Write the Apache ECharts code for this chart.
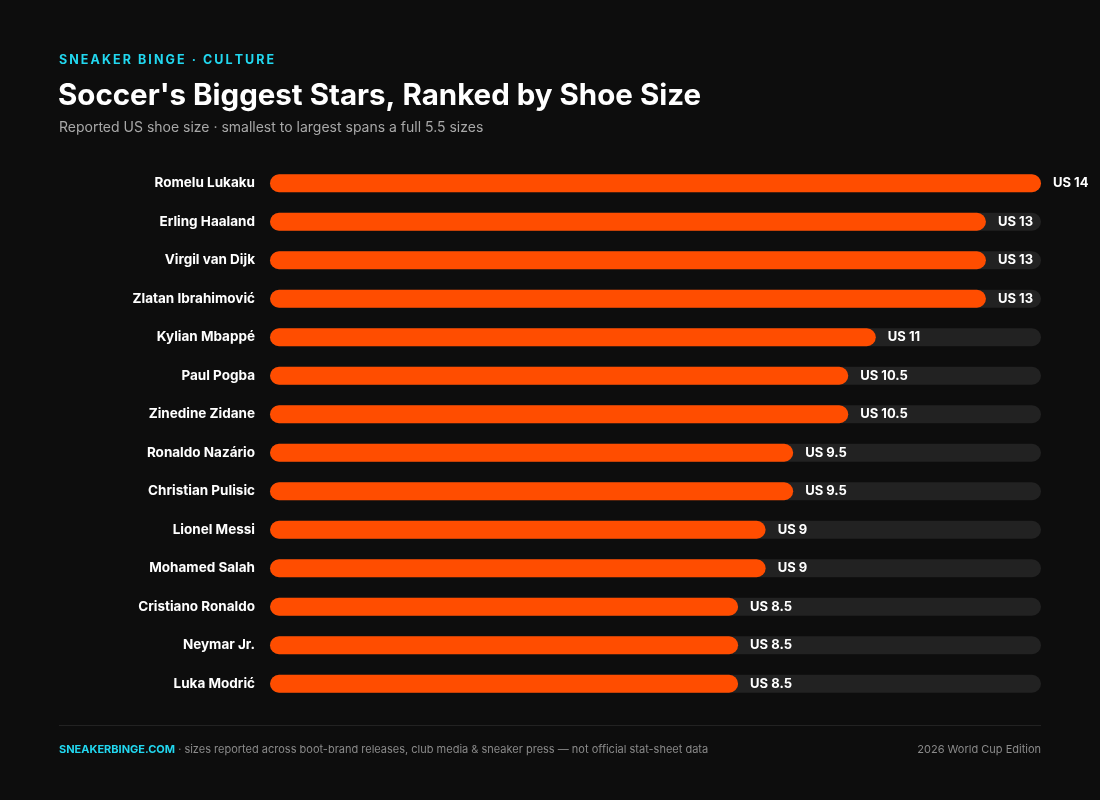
<!DOCTYPE html>
<html>
<head>
<meta charset="utf-8">
<title>Soccer's Biggest Stars, Ranked by Shoe Size</title>
<script src="https://cdn.jsdelivr.net/npm/echarts@6/dist/echarts.min.js"></script>
<style>
  html, body { margin: 0; padding: 0; background: #0d0d0d; }
  #chart { width: 1100px; height: 800px; }
</style>
</head>
<body>
<div id="chart"></div>
<script>
// players, top to bottom
const players = [
  "Romelu Lukaku", "Erling Haaland", "Virgil van Dijk", "Zlatan Ibrahimović",
  "Kylian Mbappé", "Paul Pogba", "Zinedine Zidane", "Ronaldo Nazário",
  "Christian Pulisic", "Lionel Messi", "Mohamed Salah", "Cristiano Ronaldo",
  "Neymar Jr.", "Luka Modrić"
];
// reported US shoe size
const shoeSizes = [14, 13, 13, 13, 11, 10.5, 10.5, 9.5, 9.5, 9, 9, 8.5, 8.5, 8.5];
const maxSize = 14;

const FONT = "Inter, 'Noto Sans', sans-serif";
const ORANGE = "#ff4d00";
const TRACK = "#222222";

// spread the kicker letters a bit (no letterSpacing in canvas text)
function spaced(s) {
  return s.split("").join("\u2006");
}

let el = document.getElementById("chart");
let myChart = echarts.init(el, null, { renderer: "canvas" });

myChart.setOption({
  backgroundColor: "#0d0d0d",
  animation: false,
  grid: { left: 270, right: 59, top: 164, bottom: 97, containLabel: false },
  xAxis: {
    type: "value",
    min: 0,
    max: maxSize,
    show: false
  },
  yAxis: {
    type: "category",
    data: players,
    inverse: true,
    axisLine: { show: false },
    axisTick: { show: false },
    splitLine: { show: false },
    axisLabel: {
      color: "#ffffff",
      fontFamily: FONT,
      fontWeight: "bold",
      fontSize: 13.5,
      margin: 15
    }
  },
  series: [
    {
      // background track
      type: "bar",
      data: players.map(() => maxSize),
      barWidth: 18,
      barGap: "-100%",
      silent: true,
      itemStyle: { color: TRACK, borderRadius: 9 },
      z: 1
    },
    {
      type: "bar",
      data: shoeSizes,
      barWidth: 18,
      itemStyle: { color: ORANGE, borderRadius: 9 },
      label: {
        show: true,
        position: "right",
        distance: 12,
        formatter: (p) => "US " + p.value,
        color: "#ffffff",
        fontFamily: FONT,
        fontWeight: "bold",
        fontSize: 13
      },
      z: 2
    }
  ],
  graphic: [
    {
      type: "text",
      left: 59,
      top: 54,
      style: {
        text: spaced("SNEAKER BINGE · CULTURE"),
        fill: "#22d8f0",
        font: "bold 12.5px " + FONT
      }
    },
    {
      type: "text",
      left: 58,
      top: 81,
      style: {
        text: "Soccer's Biggest Stars, Ranked by Shoe Size",
        fill: "#ffffff",
        font: "bold 29.5px " + FONT
      }
    },
    {
      type: "text",
      left: 59,
      top: 121,
      style: {
        text: "Reported US shoe size · smallest to largest spans a full 5.5 sizes",
        fill: "#a8a8a8",
        font: "14px " + FONT
      }
    },
    {
      type: "rect",
      shape: { x: 59, y: 725, width: 982, height: 1 },
      style: { fill: "#222222" }
    },
    {
      type: "text",
      left: 59,
      top: 744,
      style: {
        rich: {
          a: { fill: "#22d8f0", font: "bold 11px " + FONT },
          b: { fill: "#8a8a8a", font: "11px " + FONT }
        },
        text: "{a|SNEAKERBINGE.COM}{b| · sizes reported across boot-brand releases, club media & sneaker press — not official stat-sheet data}"
      }
    },
    {
      type: "text",
      right: 59,
      top: 744,
      style: {
        text: "2026 World Cup Edition",
        fill: "#8a8a8a",
        font: "11px " + FONT
      }
    }
  ]
});
</script>
</body>
</html>
